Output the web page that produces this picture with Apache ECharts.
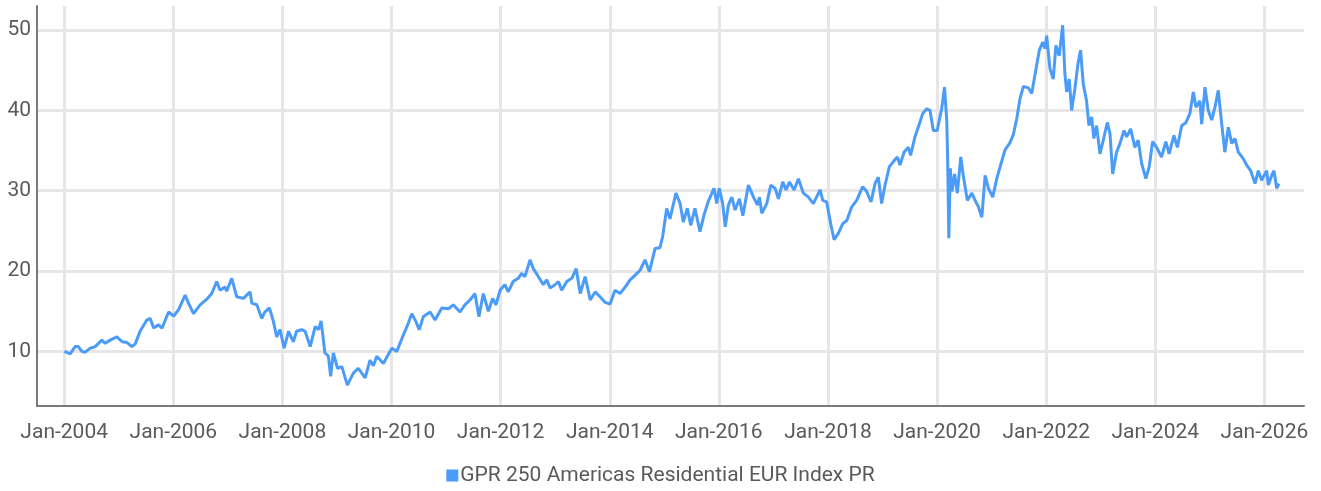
<!DOCTYPE html>
<html>
<head>
<meta charset="utf-8">
<script src="https://cdn.jsdelivr.net/npm/echarts@6/dist/echarts.min.js"></script>
<style>
html,body{margin:0;padding:0;background:#fff;}
#chart{width:1321px;height:491px;}
</style>
</head>
<body>
<div id="chart"></div>
<script>
const seriesName = 'GPR 250 Americas Residential EUR Index PR';
const dates = [
'2004-01-02','2004-02-10','2004-03-14','2004-04-05','2004-04-28','2004-05-21','2004-06-24','2004-07-27','2004-09-09','2004-10-01','2004-11-04','2004-12-19',
'2005-01-23','2005-02-25','2005-03-29','2005-04-20','2005-05-23','2005-07-07','2005-07-30','2005-08-22','2005-09-24','2005-10-17','2005-11-30',
'2006-01-03','2006-02-05','2006-03-21','2006-04-12','2006-05-16','2006-06-29','2006-08-13','2006-09-15','2006-10-18','2006-11-09','2006-12-13','2006-12-24',
'2007-01-27','2007-03-01','2007-04-15','2007-05-30','2007-06-10','2007-07-14','2007-08-16','2007-09-05','2007-10-06','2007-11-02','2007-11-24','2007-12-16',
'2008-01-13','2008-02-11','2008-03-14','2008-04-05','2008-05-10','2008-06-01','2008-07-05','2008-08-08','2008-08-30','2008-09-16','2008-10-12','2008-11-04','2008-11-19','2008-12-07',
'2009-01-04','2009-02-02','2009-03-11','2009-04-20','2009-05-23','2009-07-08','2009-08-10','2009-09-01','2009-09-24','2009-11-07','2009-12-10',
'2010-01-03','2010-02-05','2010-03-20','2010-04-23','2010-05-16','2010-06-13','2010-07-05','2010-08-01','2010-09-16','2010-10-19','2010-12-03',
'2011-01-16','2011-02-18','2011-04-04','2011-05-07','2011-06-10','2011-07-13','2011-08-09','2011-09-07','2011-10-11','2011-11-09','2011-12-01','2011-12-28',
'2012-01-30','2012-02-21','2012-03-25','2012-04-28','2012-05-21','2012-06-12','2012-07-16','2012-08-07','2012-09-10','2012-10-13','2012-11-05','2012-11-27','2012-12-31',
'2013-01-22','2013-02-13','2013-03-19','2013-04-22','2013-05-21','2013-06-17','2013-07-20','2013-08-23','2013-09-25','2013-10-28','2013-12-01',
'2014-01-03','2014-02-05','2014-03-11','2014-04-14','2014-05-17','2014-06-20','2014-07-23','2014-08-25','2014-09-23','2014-10-31','2014-12-03','2014-12-21',
'2015-01-17','2015-02-08','2015-03-20','2015-04-17','2015-05-08','2015-06-04','2015-06-27','2015-07-25','2015-08-28','2015-09-24','2015-10-23','2015-11-30','2015-12-18',
'2016-01-04','2016-01-27','2016-02-13','2016-03-05','2016-03-28','2016-04-19','2016-05-18','2016-06-10','2016-07-17','2016-08-20','2016-09-16','2016-09-29','2016-10-15','2016-11-17','2016-12-14',
'2017-01-12','2017-02-03','2017-03-04','2017-03-26','2017-04-18','2017-05-19','2017-06-17','2017-07-20','2017-08-23','2017-09-25','2017-11-09','2017-11-27','2017-12-23',
'2018-01-21','2018-02-11','2018-03-11','2018-04-10','2018-05-07','2018-06-09','2018-07-12','2018-08-21','2018-09-17','2018-10-16','2018-11-12','2018-12-04','2018-12-26',
'2019-01-18','2019-02-16','2019-03-14','2019-04-10','2019-04-28','2019-05-25','2019-06-23','2019-07-08','2019-08-06','2019-08-28','2019-09-27','2019-10-24','2019-11-15','2019-12-07',
'2020-01-02','2020-02-01','2020-02-20','2020-03-06','2020-03-12','2020-03-20','2020-03-30','2020-04-10','2020-04-28','2020-05-16','2020-06-08','2020-06-26','2020-07-22','2020-08-21','2020-09-12','2020-10-04','2020-10-27','2020-11-18','2020-12-10',
'2021-01-08','2021-02-04','2021-03-03','2021-04-01','2021-05-04','2021-05-26','2021-06-18','2021-07-10','2021-08-01','2021-09-04','2021-09-26','2021-10-25','2021-11-16','2021-12-09','2021-12-24',
'2022-01-04','2022-01-26','2022-02-17','2022-03-07','2022-03-29','2022-04-21','2022-05-06','2022-05-18','2022-06-04','2022-06-20','2022-07-12','2022-08-03','2022-08-19','2022-09-06','2022-09-28','2022-10-14','2022-11-01','2022-11-16','2022-12-04','2022-12-27',
'2023-01-18','2023-02-14','2023-03-04','2023-03-22','2023-04-17','2023-05-10','2023-06-06','2023-06-24','2023-07-20','2023-08-18','2023-09-09','2023-10-02','2023-10-30','2023-11-22','2023-12-14',
'2024-01-10','2024-02-12','2024-03-12','2024-04-03','2024-05-05','2024-05-28','2024-06-26','2024-07-25','2024-08-20','2024-09-12','2024-09-30','2024-10-26','2024-11-07','2024-11-29','2024-12-21',
'2025-01-13','2025-02-04','2025-02-26','2025-03-20','2025-04-11','2025-05-04','2025-05-27','2025-06-18','2025-07-10','2025-08-12','2025-09-04','2025-10-01','2025-10-30','2025-11-21','2025-12-13',
'2026-01-16','2026-01-27','2026-02-19','2026-03-06','2026-03-24','2026-04-08'
];
const values = [
10.0,9.7,10.6,10.6,10.0,9.9,10.4,10.6,11.4,11.0,11.4,11.8,
11.2,11.1,10.6,10.9,12.5,13.9,14.1,12.9,13.3,12.9,14.9,
14.4,15.2,17.0,16.0,14.7,15.8,16.5,17.2,18.7,17.6,18.0,17.5,
19.1,16.8,16.6,17.4,16.0,15.8,14.1,14.9,15.4,13.7,11.8,12.7,
10.4,12.5,11.2,12.5,12.7,12.5,10.6,13.1,12.7,13.8,9.8,9.4,6.9,9.8,
7.9,8.1,5.8,7.3,7.9,6.7,8.9,8.2,9.4,8.5,9.6,
10.4,10.0,12.0,13.5,14.7,13.7,12.7,14.3,14.9,13.9,15.4,
15.3,15.8,14.9,15.8,16.4,17.2,14.3,17.2,15.0,16.6,15.8,17.6,
18.3,17.4,18.7,19.1,19.7,19.3,21.4,20.3,19.3,18.3,18.9,17.9,18.3,
18.7,17.6,18.7,19.1,20.3,17.2,19.3,16.4,17.4,16.8,16.1,
15.9,17.6,17.2,18.0,18.9,19.5,20.1,21.4,19.9,22.8,22.9,24.3,
27.8,26.5,29.7,28.4,26.1,27.8,25.7,27.8,24.9,27.0,28.7,30.3,28.4,
30.3,28.4,25.5,28.2,29.2,27.6,29.0,26.9,30.7,29.2,28.2,29.2,27.2,28.4,30.7,
30.3,29.0,31.1,30.1,31.1,30.1,31.5,29.7,29.2,28.4,30.1,28.8,28.6,
25.7,23.9,24.7,25.9,26.3,28.0,28.8,30.5,29.9,28.6,30.9,31.7,28.4,
30.7,33.0,33.6,34.2,33.2,34.8,35.4,34.4,36.7,37.9,39.6,40.2,40.0,37.5,
37.5,40.2,42.9,38.8,34.2,24.1,32.8,29.9,32.1,29.7,34.2,31.7,28.8,29.7,28.8,28.0,26.7,31.9,30.3,
29.2,31.5,33.3,35.1,36.0,37.0,39.0,41.5,43.0,42.8,42.1,45.2,47.5,48.5,47.7,
49.3,45.2,43.9,48.1,46.8,50.6,44.6,42.3,43.9,40.0,42.7,46.0,47.5,43.3,41.2,38.1,39.2,36.5,38.1,34.6,
36.3,38.5,37.1,32.1,34.8,35.9,37.5,36.7,37.7,35.4,36.3,33.4,31.5,33.0,36.1,
35.4,34.2,36.1,34.6,36.9,35.4,38.1,38.5,39.6,42.3,40.4,41.2,38.3,42.9,40.0,
38.8,40.4,42.5,38.5,34.8,37.9,35.9,36.5,34.8,34.0,33.2,32.5,30.9,32.5,31.3,
32.5,30.7,31.9,32.5,30.3,30.9
];
const yTicks = [10, 20, 30, 40, 50];
const xTickYears = [2004, 2006, 2008, 2010, 2012, 2014, 2016, 2018, 2020, 2022, 2024, 2026];

function ts(s) { const p = s.split('-'); return Date.UTC(+p[0], +p[1] - 1, +p[2]); }
const xTicks = xTickYears.map(y => Date.UTC(y, 0, 1));
const data = dates.map((d, i) => [ts(d), values[i]]);

const font = 'Roboto, "Noto Sans", sans-serif';
const chart = echarts.init(document.getElementById('chart'), null, {renderer: 'canvas'});
chart.setOption({
  animation: false,
  backgroundColor: '#ffffff',
  grid: {left: 37, right: 17, top: 6, bottom: 85, containLabel: false},
  legend: {
    bottom: 0, left: 'center',
    icon: 'rect', itemWidth: 12, itemHeight: 12, itemGap: 4,
    textStyle: {fontFamily: font, fontSize: 21, color: '#5a5a5a', padding: [0, 0, 0, -3]},
    data: [seriesName]
  },
  xAxis: {
    type: 'value',
    min: ts('2003-07-03'),
    max: ts('2026-09-23'),
    axisLine: {show: true, lineStyle: {color: '#7a7a7a', width: 2}},
    axisTick: {show: false, customValues: xTicks},
    axisLabel: {
      customValues: xTicks,
      formatter: function (v) { return 'Jan-' + new Date(v).getUTCFullYear(); },
      fontFamily: font, fontSize: 21, color: '#5a5a5a', margin: 16
    },
    splitLine: {show: true, lineStyle: {color: '#e6e6e6', width: 3}}
  },
  yAxis: {
    type: 'value',
    min: 3.2, max: 53,
    axisLine: {show: true, lineStyle: {color: '#7a7a7a', width: 2}},
    axisTick: {show: false, customValues: yTicks},
    axisLabel: {customValues: yTicks, fontFamily: font, fontSize: 21, color: '#5a5a5a', margin: 6},
    splitLine: {show: true, lineStyle: {color: '#e6e6e6', width: 3}}
  },
  series: [{
    name: seriesName,
    type: 'line',
    data: data,
    showSymbol: false,
    symbol: 'none',
    lineStyle: {color: '#4b9bf8', width: 3},
    itemStyle: {color: '#4b9bf8'}
  }]
});
</script>
</body>
</html>
